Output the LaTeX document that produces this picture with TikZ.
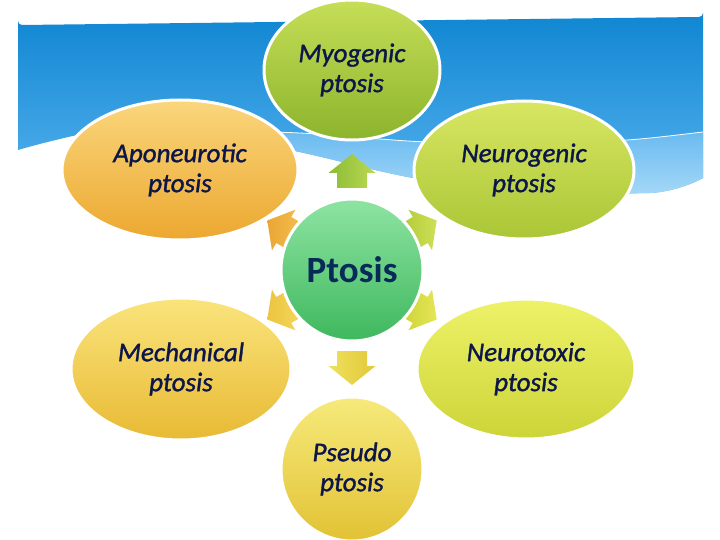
\documentclass[tikz,border=0pt]{standalone}
\usepackage{fontspec}
\setmainfont{Carlito}
\usetikzlibrary{shapes.geometric}
\definecolor{bannerTop}{RGB}{16,134,210}
\definecolor{bannerBot}{RGB}{86,178,238}
\definecolor{bandTop}{RGB}{104,186,240}
\definecolor{bandBot}{RGB}{170,218,248}
\definecolor{navy}{RGB}{12,22,72}
\definecolor{ptnavy}{RGB}{8,42,88}
\definecolor{myoT}{RGB}{198,222,88}\definecolor{myoB}{RGB}{140,180,44}
\definecolor{apoT}{RGB}{250,214,124}\definecolor{apoB}{RGB}{236,168,48}
\definecolor{negT}{RGB}{216,230,98}\definecolor{negB}{RGB}{170,198,54}
\definecolor{ptoT}{RGB}{142,228,162}\definecolor{ptoB}{RGB}{62,184,94}
\definecolor{mecT}{RGB}{250,228,124}\definecolor{mecB}{RGB}{232,186,52}
\definecolor{ntxT}{RGB}{238,242,104}\definecolor{ntxB}{RGB}{204,212,56}
\definecolor{pseT}{RGB}{246,234,124}\definecolor{pseB}{RGB}{226,194,52}
\newcommand{\bannerpath}{(18,150) -- (18,21) arc[start angle=180,end angle=90,radius=4] -- (699,17) arc[start angle=90,end angle=0,radius=4] -- (703,178)
  .. controls (690,185) and (670,192) .. (650,193)
  .. controls (570,195) and (470,190) .. (413,178)
  .. controls (370,170) and (330,158) .. (290,150)
  .. controls (240,138) and (190,127) .. (150,128)
  .. controls (115,129) and (95,130) .. (77,135)
  .. controls (55,140) and (35,145) .. (18,150) -- cycle}
% block arrow: x, y, angle, base colour, tip colour
\newcommand{\blockarr}[5]{%
  \begin{scope}[shift={(#1,#2)}, rotate=#3]
    \shade[left color=#4, right color=#5]
      (-17,-15) -- (-2,-15) -- (-2,-23.5) -- (17,0) -- (-2,23.5) -- (-2,15) -- (-17,15) -- cycle;
  \end{scope}}
\begin{document}
\begin{tikzpicture}[x=1pt,y=-1pt,
  sat/.style={ellipse, draw=white, line width=3pt, inner sep=0pt, text=navy,
    font=\itshape\addfontfeature{FakeBold=1.2}\fontsize{27}{30}\selectfont, align=center}]
\useasboundingbox (0,0) rectangle (720,540);
\fill[white] (0,0) rectangle (720,540);
% banner
\shade[top color=bannerTop, bottom color=bannerBot] \bannerpath;
\begin{scope}
  \clip \bannerpath;
  \shade[top color=bandTop, bottom color=bandBot]
    plot[smooth] coordinates {(150,131) (215,131) (300,133) (380,139) (430,142) (530,143) (627,140) (703,132) (720,130)}
    -- (720,200) -- (150,200) -- cycle;
  \draw[white, line width=0.8pt]
    plot[smooth] coordinates {(150,131) (215,131) (300,133) (380,139) (430,142) (530,143) (627,140) (703,132) (720,130)};
\end{scope}
% arrows
\blockarr{352}{171}{90}{{rgb,255:red,140;green,188;blue,54}}{{rgb,255:red,186;green,216;blue,82}}
\blockarr{352}{368}{-90}{{rgb,255:red,238;green,224;blue,92}}{{rgb,255:red,226;green,200;blue,58}}
\blockarr{282}{229}{150}{{rgb,255:red,234;green,166;blue,52}}{{rgb,255:red,244;green,192;blue,82}}
\blockarr{422}{229}{30}{{rgb,255:red,176;green,202;blue,56}}{{rgb,255:red,206;green,224;blue,86}}
\blockarr{282}{311}{210}{{rgb,255:red,236;green,196;blue,64}}{{rgb,255:red,246;green,216;blue,92}}
\blockarr{422}{311}{-30}{{rgb,255:red,204;green,210;blue,56}}{{rgb,255:red,228;green,230;blue,84}}
% satellites
\node[sat, minimum width=176, minimum height=140, top color=myoT, bottom color=myoB] (myo) at (352,70) {Myogenic\\ptosis};
\node[sat, minimum width=236, minimum height=140, top color=apoT, bottom color=apoB] (apo) at (180,170) {Aponeurotic\\ptosis};
\node[sat, minimum width=220, minimum height=138, top color=negT, bottom color=negB] (neg) at (524,170) {Neurogenic\\ptosis};
\node[sat, minimum width=220, minimum height=142, top color=mecT, bottom color=mecB] (mec) at (181,369) {Mechanical\\ptosis};
\node[sat, minimum width=218, minimum height=140, top color=ntxT, bottom color=ntxB] (ntx) at (526,369) {Neurotoxic\\ptosis};
\node[sat, minimum width=142, minimum height=144, top color=pseT, bottom color=pseB] (pse) at (352,469) {Pseudo\\ptosis};
% center
\node[circle, draw=white, line width=3pt, minimum size=142, inner sep=0pt, top color=ptoT, bottom color=ptoB,
  text=ptnavy, font=\bfseries\fontsize{37}{40}\selectfont] (pto) at (352,270) {Ptosis};
\end{tikzpicture}
\end{document}
